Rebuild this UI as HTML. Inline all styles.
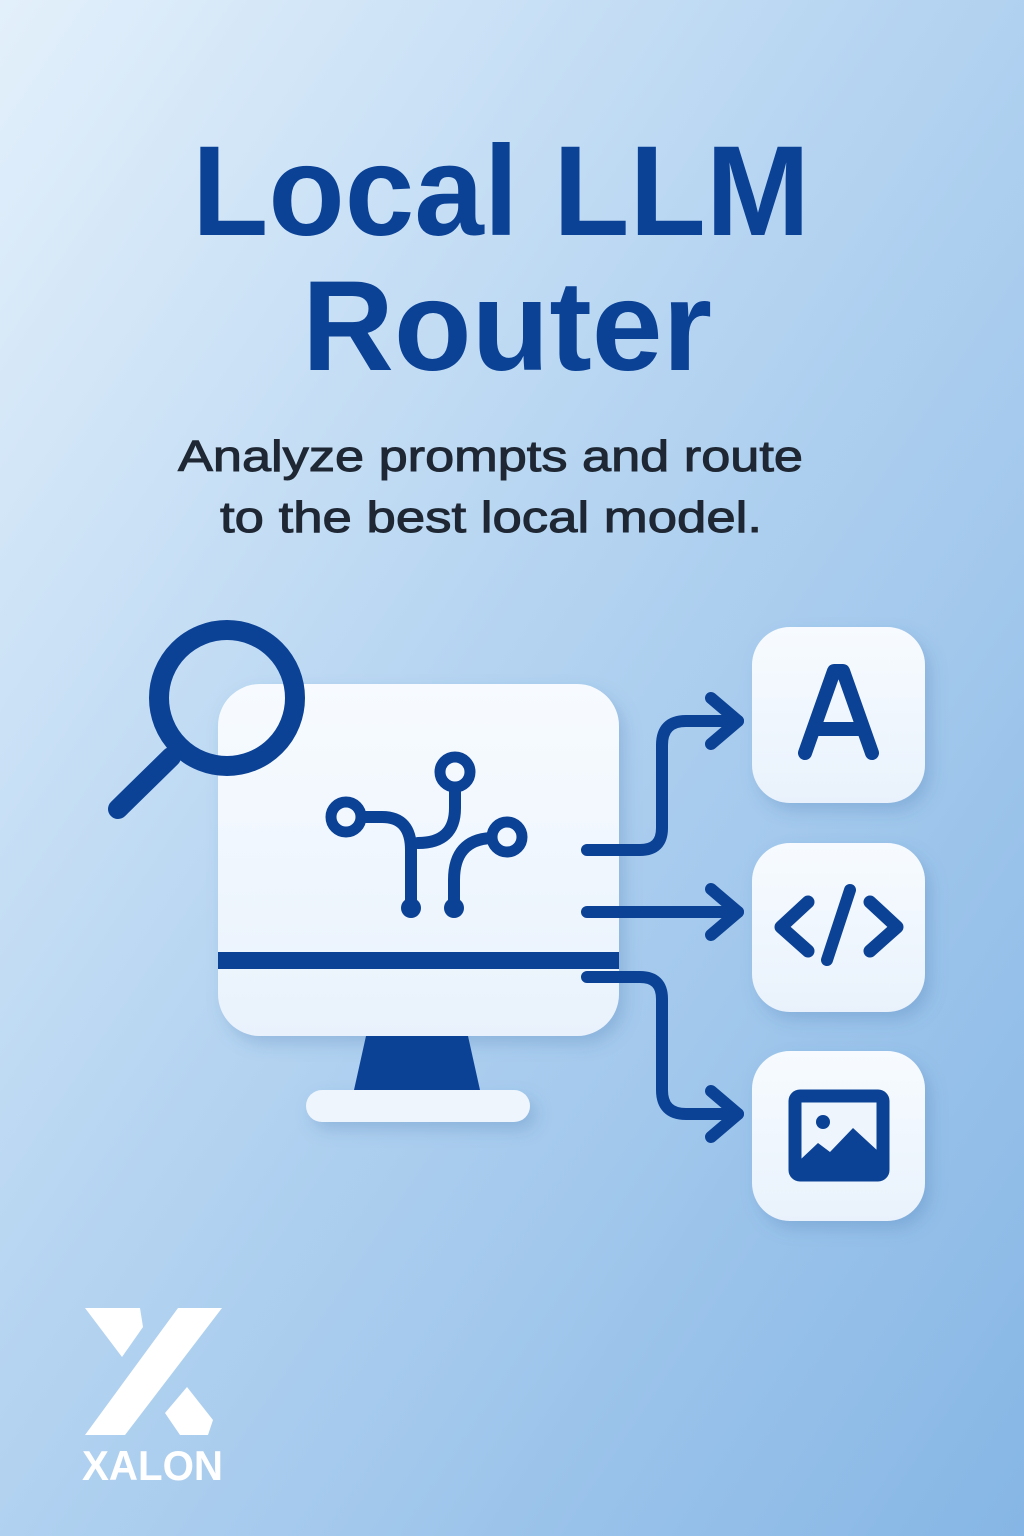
<!DOCTYPE html>
<html><head><meta charset="utf-8"><style>
html,body{margin:0;padding:0;}
body{width:1024px;height:1536px;overflow:hidden;}
svg{display:block;}
</style></head><body>
<svg width="1024" height="1536" viewBox="0 0 1024 1536" xmlns="http://www.w3.org/2000/svg">
<defs>
<linearGradient id="bg" x1="0" y1="0" x2="1" y2="1">
<stop offset="0" stop-color="#e3f0fb"/>
<stop offset="0.45" stop-color="#b5d4f1"/>
<stop offset="1" stop-color="#86b6e5"/>
</linearGradient>
<linearGradient id="card" x1="0" y1="0" x2="0" y2="1">
<stop offset="0" stop-color="#f7fbff"/>
<stop offset="1" stop-color="#e9f2fc"/>
</linearGradient>
<filter id="sh" x="-20%" y="-20%" width="150%" height="150%">
<feDropShadow dx="6" dy="8" stdDeviation="8" flood-color="#3a6ea8" flood-opacity="0.25"/>
</filter>
</defs>
<rect width="1024" height="1536" fill="url(#bg)"/>

<g font-family="Liberation Sans, sans-serif" font-weight="bold" fill="#0b4296">
<text x="192" y="235" font-size="128" textLength="618" lengthAdjust="spacingAndGlyphs">Local LLM</text>
<text x="302" y="370" font-size="128" textLength="410" lengthAdjust="spacingAndGlyphs">Router</text>
</g>
<g font-family="Liberation Sans, sans-serif" fill="#1e2733" stroke="#1e2733" stroke-width="1">
<text x="178" y="471" font-size="44" textLength="625" lengthAdjust="spacingAndGlyphs">Analyze prompts and route</text>
<text x="220" y="532" font-size="44" textLength="542" lengthAdjust="spacingAndGlyphs">to the best local model.</text>
</g>

<!-- monitor -->
<g filter="url(#sh)">
<rect x="218" y="684" width="401" height="352" rx="42" fill="url(#card)"/>
<rect x="306" y="1090" width="224" height="32" rx="16" fill="#eef5fd"/>
</g>
<polygon points="366,1036 468,1036 480,1090 354,1090" fill="#0b4296"/>
<rect x="218" y="952" width="401" height="17" fill="#0b4296"/>

<!-- magnifier -->
<g stroke="#0b4296" fill="none" stroke-linecap="round">
<circle cx="227" cy="698" r="68" stroke-width="20"/>
<line x1="171" y1="757" x2="118" y2="809" stroke-width="20"/>
</g>

<!-- circuit -->
<g stroke="#0b4296" fill="none" stroke-width="12" stroke-linecap="round">
<circle cx="346" cy="817" r="15" stroke-width="11"/>
<circle cx="455" cy="772" r="15" stroke-width="11"/>
<circle cx="507" cy="837" r="15" stroke-width="11"/>
<path d="M362 817 H382 Q411 817 411 850 V905"/>
<path d="M455 788 V808 Q455 843 418 843"/>
<path d="M491 838 Q454 840 454 880 V905"/>
</g>
<circle cx="411" cy="908" r="10" fill="#0b4296"/>
<circle cx="454" cy="908" r="10" fill="#0b4296"/>

<!-- arrows -->
<g stroke="#0b4296" fill="none" stroke-width="12" stroke-linecap="round" stroke-linejoin="round">
<path d="M587 850 H640 Q662 850 662 828 V745 Q662 721 686 721 H738"/>
<path d="M711 698 L738 721 L711 744"/>
<path d="M587 912 H738"/>
<path d="M711 889 L738 912 L711 935"/>
<path d="M587 977 H640 Q662 977 662 999 V1090 Q662 1114 686 1114 H738"/>
<path d="M711 1091 L738 1114 L711 1137"/>
</g>

<!-- model boxes -->
<g filter="url(#sh)" fill="url(#card)">
<rect x="752" y="627" width="173" height="176" rx="38"/>
<rect x="752" y="843" width="173" height="169" rx="38"/>
<rect x="752" y="1051" width="173" height="170" rx="38"/>
</g>
<g stroke="#0b4296" fill="none" stroke-width="14" stroke-linecap="round" stroke-linejoin="round">
<path d="M805 753 L834 671 H843 L872 753"/>
<line x1="816" y1="729" x2="862" y2="729"/>
<path d="M808 902 L781 927 L808 951" stroke-width="13"/>
<path d="M870 902 L897 927 L870 951" stroke-width="13"/>
<line x1="850" y1="890" x2="827" y2="960" stroke-width="12"/>
</g>
<rect x="795" y="1096" width="88" height="79" rx="5" fill="#eef5fd" stroke="#0b4296" stroke-width="13"/>
<polygon points="800,1160 818,1143 830,1152 853,1128 879,1152 879,1171 800,1171" fill="#0b4296"/>
<circle cx="823" cy="1122" r="7" fill="#0b4296"/>

<!-- logo -->
<g fill="#ffffff">
<polygon points="85,1308 140,1308 143,1327 122,1357"/>
<polygon points="178,1308 222,1308 125,1435 85,1435"/>
<polygon points="187,1387 213,1420 208,1435 180,1435 165,1413"/>
</g>
<text x="82" y="1480" font-family="Liberation Sans, sans-serif" font-weight="bold" font-size="42" fill="#ffffff" textLength="141" lengthAdjust="spacingAndGlyphs">XALON</text>
</svg>
</body></html>
